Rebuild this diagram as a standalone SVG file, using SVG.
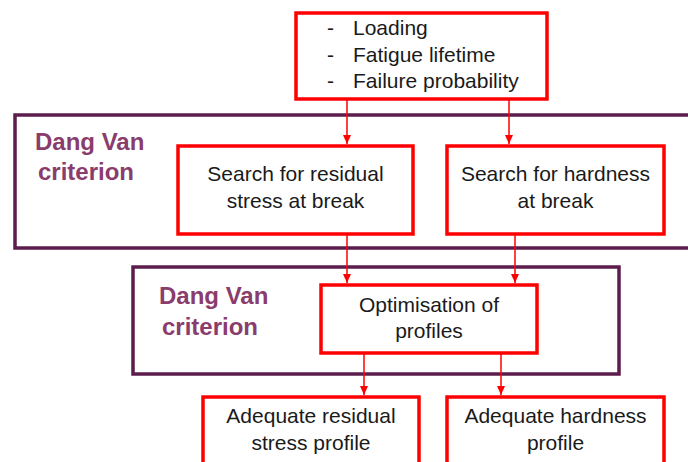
<svg xmlns="http://www.w3.org/2000/svg" width="688" height="462" viewBox="0 0 688 462">
<defs>
<marker id="arr" markerWidth="10" markerHeight="10" refX="9" refY="5" orient="auto" markerUnits="userSpaceOnUse">
<path d="M0,1 L9,5 L0,9 Z" fill="#ff0000"/>
</marker>
<style>
.frame{fill:none;stroke:#5c1d4d;stroke-width:3.5}
.box{fill:#ffffff;stroke:#ff0000;stroke-width:3.5}
.t{font-family:"Liberation Sans",Arial,sans-serif;font-size:21px;fill:#1a1a1a;text-anchor:middle}
.tl{font-family:"Liberation Sans",Arial,sans-serif;font-size:21px;fill:#1a1a1a}
.dv{font-family:"Liberation Sans",Arial,sans-serif;font-size:24px;font-weight:bold;fill:#8a3c6c}
.c{fill:none;stroke:#ff0000;stroke-width:1.5}
</style>
</defs>
<rect width="688" height="462" fill="#ffffff"/>
<g id="frame1">
<rect class="frame" x="15" y="115" width="690" height="133"/>
<text class="dv" x="35" y="150">Dang Van</text>
<text class="dv" x="38" y="180">criterion</text>
</g>
<g id="frame2">
<rect class="frame" x="133" y="267" width="486" height="107"/>
<text class="dv" x="159" y="304">Dang Van</text>
<text class="dv" x="162" y="335">criterion</text>
</g>
<g id="connectors">
<line class="c" x1="347" y1="100" x2="347" y2="144" marker-end="url(#arr)"/>
<line class="c" x1="509" y1="100" x2="509" y2="144" marker-end="url(#arr)"/>
<line class="c" x1="347" y1="235" x2="347" y2="283" marker-end="url(#arr)"/>
<line class="c" x1="515" y1="235" x2="515" y2="283" marker-end="url(#arr)"/>
<line class="c" x1="364" y1="354" x2="364" y2="395" marker-end="url(#arr)"/>
<line class="c" x1="501" y1="354" x2="501" y2="395" marker-end="url(#arr)"/>
</g>
<g id="inputs">
<rect class="box" x="296" y="13" width="251" height="86"/>
<text class="tl" x="327" y="35">-</text>
<text class="tl" x="353" y="35">Loading</text>
<text class="tl" x="327" y="62">-</text>
<text class="tl" x="353" y="62">Fatigue lifetime</text>
<text class="tl" x="327" y="88">-</text>
<text class="tl" x="353" y="88">Failure probability</text>
</g>
<g id="search-residual">
<rect class="box" x="178" y="146" width="235" height="88"/>
<text class="t" x="295.5" y="181">Search for residual</text>
<text class="t" x="295.5" y="208">stress at break</text>
</g>
<g id="search-hardness">
<rect class="box" x="447" y="146" width="217" height="88"/>
<text class="t" x="555.5" y="181">Search for hardness</text>
<text class="t" x="555.5" y="208">at break</text>
</g>
<g id="optimisation">
<rect class="box" x="321" y="285" width="216" height="68"/>
<text class="t" x="429" y="312">Optimisation of</text>
<text class="t" x="429" y="338">profiles</text>
</g>
<g id="adequate-residual">
<rect class="box" x="203" y="397" width="216" height="80"/>
<text class="t" x="311" y="423">Adequate residual</text>
<text class="t" x="311" y="450">stress profile</text>
</g>
<g id="adequate-hardness">
<rect class="box" x="447" y="397" width="217" height="80"/>
<text class="t" x="555.5" y="423">Adequate hardness</text>
<text class="t" x="555.5" y="450">profile</text>
</g>
</svg>
